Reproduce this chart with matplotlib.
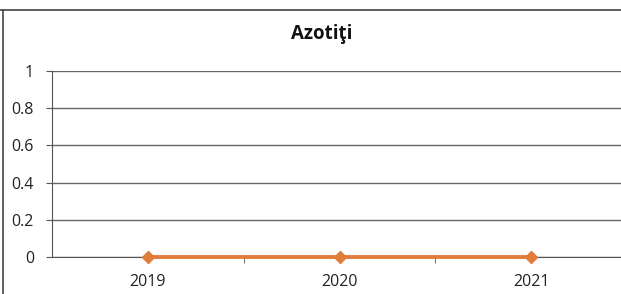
import matplotlib.pyplot as plt
from matplotlib.lines import Line2D

# Data
years = ["2019", "2020", "2021"]
values = [0, 0, 0]
y_ticks = [0, 0.2, 0.4, 0.6, 0.8, 1]
y_labels = ["0", "0.2", "0.4", "0.6", "0.8", "1"]

plt.rcParams['font.family'] = ['Open Sans', 'DejaVu Sans']

fig = plt.figure(figsize=(6.21, 2.94), dpi=100)
ax = fig.add_axes([0.0837, 0.1259, 0.926, 0.6327])

x = list(range(len(years)))
ax.plot(x, values, color="#E07B39", lw=2.8, marker="D", ms=6, zorder=3,
        clip_on=False)

ax.set_xlim(-0.5, len(years) - 0.5)
ax.set_ylim(0, 1)
ax.set_yticks(y_ticks)
ax.set_yticklabels(y_labels, fontsize=11.5, color="#222222")
ax.set_xticks(x)
ax.set_xticklabels(years, fontsize=11.5, color="#222222")
ax.tick_params(axis="x", length=0, pad=12)
ax.tick_params(axis="y", length=4, color="#555555", pad=9)
ax.set_xticks([i + 0.5 for i in range(len(years) - 1)], minor=True)
ax.tick_params(axis="x", which="minor", length=4, color="#555555", direction="out")

ax.grid(axis="y", color="#666666", lw=1.0)
ax.set_axisbelow(True)
for s in ["top", "right"]:
    ax.spines[s].set_visible(False)
ax.spines["left"].set_color("#555555")
ax.spines["bottom"].set_color("#555555")

fig.text(0.518, 0.885, "Azotiţi", ha="center", va="center",
         fontsize=13.5, fontweight="bold", color="#111111")

# outer frame pieces visible in the scan
fig.add_artist(Line2D([0, 1], [0.966, 0.966], color="#444444", lw=1.2))
fig.add_artist(Line2D([0.005, 0.005], [0, 0.966], color="#444444", lw=1.2))

fig.savefig("out.png", dpi=100)
